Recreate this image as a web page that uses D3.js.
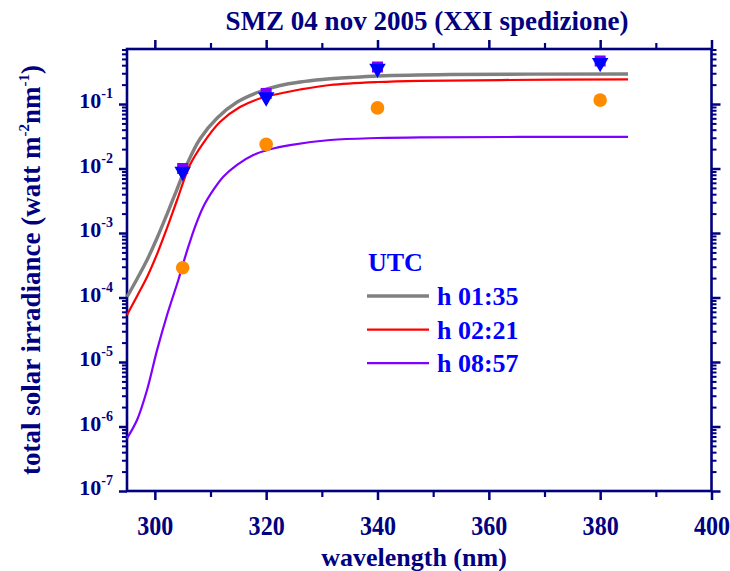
<!DOCTYPE html>
<html><head><meta charset="utf-8">
<script src="https://cdn.jsdelivr.net/npm/d3@7"></script>
<style>body{margin:0;background:#fff}svg{display:block}</style>
</head><body>
<svg id="c" width="730" height="571"></svg>
<script>
// ---------- data ----------
const titleText = "SMZ 04 nov 2005 (XXI spedizione)";
const xLabel = "wavelength (nm)";
const xTicksMajor = [300, 320, 340, 360, 380, 400];
const xTicksMinor = [310, 330, 350, 370, 390];
const yTickExponents = [-7, -6, -5, -4, -3, -2, -1];
const legendTitle = "UTC";
const seriesNames = ["h 01:35", "h 02:21", "h 08:57"];

// curve h 01:35 (grey)
const wl0135  = [295, 296.8, 298.6, 300.4, 302.2, 304.0, 305.8, 308.1, 311.2, 314.8, 318.9, 322.5, 326.1, 330.1, 335.1, 340.1, 353.1, 385];
const irr0135 = [1.02e-4, 1.94e-4, 3.81e-4, 8.36e-4, 1.97e-3, 4.81e-3, 0.01175, 0.0287, 0.0607, 0.1074, 0.1563, 0.1936, 0.2193, 0.2399, 0.2576, 0.2716, 0.2864, 0.2917];
// curve h 02:21 (red)
const wl0221  = [295, 296.8, 298.6, 300.4, 302.2, 304.0, 306.3, 308.7, 311.7, 315.3, 319.4, 322.5, 326.1, 331.5, 340.0, 347.7, 362.1, 385];
const irr0221 = [5.36e-5, 1.05e-4, 2.08e-4, 4.72e-4, 1.20e-3, 3.25e-3, 0.01132, 0.0248, 0.0526, 0.0898, 0.1262, 0.1455, 0.1679, 0.1972, 0.2193, 0.2291, 0.2355, 0.2415];
// curve h 08:57 (violet)
const wl0857  = [295, 296.8, 298.6, 300.4, 302.2, 304.22, 305.06, 306.02, 307.22, 308.71, 310.51, 312.30, 314.71, 317.70, 320.70, 324.29, 331.5, 340.0, 347.7, 385];
const irr0857 = [6.56e-7, 1.26e-6, 3.68e-6, 1.53e-5, 5.36e-5, 1.87e-4, 3.30e-4, 6.14e-4, 1.25e-3, 2.56e-3, 4.65e-3, 7.46e-3, 0.01133, 0.01618, 0.01987, 0.02312, 0.02767, 0.02972, 0.03049, 0.03098];

// measured points
const markerWl     = [305, 320, 340, 380];
const circleVals   = [2.9e-4, 0.0237, 0.087, 0.115];
const squareVals   = [0.0100, 0.146, 0.375, 0.465];
const triangleVals = [0.00895, 0.128, 0.355, 0.436];

// ---------- drawing ----------
const navy = "#000080", blue = "#0000ff";
const font = "'Liberation Serif','Times New Roman',serif";
const svg = d3.select("#c");
const L = 127, R = 711.5, T = 49, B = 491;

const x = d3.scaleLinear().domain([295, 400]).range([L, R]);
const y = d3.scaleLog().domain([1e-7, 0.713]).range([B, T]);

const yMajor = yTickExponents.map(e => Math.pow(10, e));
const yMinor = [];
for (let e = -7; e <= -1; e++) for (let k = 2; k <= 9; k++) {
  const v = k * Math.pow(10, e);
  if (v <= 0.713) yMinor.push(v);
}

function styleAxis(g, w) {
  g.select(".domain").remove();
  g.selectAll(".tick line").attr("stroke", navy).attr("stroke-width", w);
}

// bottom
svg.append("g").attr("transform", `translate(0,${B})`)
  .call(d3.axisBottom(x).tickValues(xTicksMinor).tickSize(6).tickFormat(""))
  .call(g => styleAxis(g, 2.2));
const gxb = svg.append("g").attr("transform", `translate(0,${B})`)
  .call(d3.axisBottom(x).tickValues(xTicksMajor).tickSize(9).tickFormat(d3.format("d")))
  .call(g => styleAxis(g, 2.5));
gxb.selectAll(".tick text")
  .attr("fill", navy).attr("font-family", font).attr("font-weight", "bold").attr("font-size", 28)
  .attr("dy", null).attr("y", 0)
  .attr("transform", "translate(0,44) scale(0.86,1)");
// top
svg.append("g").attr("transform", `translate(0,${T})`)
  .call(d3.axisTop(x).tickValues(xTicksMinor).tickSize(6).tickFormat(""))
  .call(g => styleAxis(g, 2.2));
svg.append("g").attr("transform", `translate(0,${T})`)
  .call(d3.axisTop(x).tickValues(xTicksMajor).tickSize(9).tickFormat(""))
  .call(g => styleAxis(g, 2.5));

// left
svg.append("g").attr("transform", `translate(${L},0)`)
  .call(d3.axisLeft(y).tickValues(yMinor).tickSize(5).tickFormat(""))
  .call(g => styleAxis(g, 2));
const gyl = svg.append("g").attr("transform", `translate(${L},0)`)
  .call(d3.axisLeft(y).tickValues(yMajor).tickSize(8).tickFormat(""))
  .call(g => styleAxis(g, 2.5));
gyl.selectAll(".tick text").each(function(d) {
  const t = d3.select(this).attr("x", -14).attr("dy", "0.38em")
    .attr("fill", navy).attr("font-family", font).attr("font-weight", "bold").attr("text-anchor", "end");
  t.append("tspan").attr("font-size", 22).text("10");
  t.append("tspan").attr("font-size", 14).attr("dy", -10).text(Math.round(Math.log10(d)));
});
// right
svg.append("g").attr("transform", `translate(${R},0)`)
  .call(d3.axisRight(y).tickValues(yMinor).tickSize(5).tickFormat(""))
  .call(g => styleAxis(g, 2));
svg.append("g").attr("transform", `translate(${R},0)`)
  .call(d3.axisRight(y).tickValues(yMajor).tickSize(9).tickFormat(""))
  .call(g => styleAxis(g, 2.5));

// frame
svg.append("rect").attr("x", L).attr("y", T).attr("width", R - L).attr("height", B - T)
  .attr("fill", "none").attr("stroke", navy).attr("stroke-width", 2.6);

// curves
const line = d3.line().x(d => x(d[0])).y(d => y(d[1])).curve(d3.curveCatmullRom.alpha(0.5));
const curves = [
  {wl: wl0135, v: irr0135, color: "#808080", w: 3.4},
  {wl: wl0221, v: irr0221, color: "#ff0000", w: 2.2},
  {wl: wl0857, v: irr0857, color: "#8000ff", w: 2.2}
];
curves.forEach(c => {
  svg.append("path").datum(c.wl.map((w, i) => [w, c.v[i]]))
    .attr("d", line).attr("fill", "none").attr("stroke", c.color).attr("stroke-width", c.w)
    .attr("stroke-linejoin", "round");
});

// markers
svg.append("g").selectAll("circle").data(markerWl.map((w, i) => [w, circleVals[i]])).join("circle")
  .attr("cx", d => x(d[0])).attr("cy", d => y(d[1])).attr("r", 6.8).attr("fill", "#ff8c00");
svg.append("g").selectAll("path").data(markerWl.map((w, i) => [w, squareVals[i]])).join("path")
  .attr("d", d3.symbol(d3.symbolSquare, 121)())
  .attr("transform", d => `translate(${x(d[0])},${y(d[1])})`).attr("fill", "#8000ff");
svg.append("g").selectAll("path").data(markerWl.map((w, i) => [w, triangleVals[i]])).join("path")
  .attr("d", d3.symbol(d3.symbolTriangle, 118)())
  .attr("transform", d => `translate(${x(d[0])},${y(d[1])}) rotate(180)`).attr("fill", blue);

// title
svg.append("text").attr("x", 427).attr("y", 30).attr("text-anchor", "middle")
  .attr("fill", navy).attr("font-family", font).attr("font-weight", "bold").attr("font-size", 27)
  .text(titleText);
// x label
svg.append("text").attr("x", 414).attr("y", 566).attr("text-anchor", "middle")
  .attr("fill", navy).attr("font-family", font).attr("font-weight", "bold").attr("font-size", 26)
  .text(xLabel);
// y label
const yl = svg.append("text").attr("transform", "translate(40,270) rotate(-90)").attr("text-anchor", "middle")
  .attr("fill", navy).attr("font-family", font).attr("font-weight", "bold").attr("font-size", 27);
yl.append("tspan").text("total solar irradiance (watt m");
yl.append("tspan").attr("font-size", 15).attr("dy", -11).text("-2");
yl.append("tspan").attr("dy", 11).text("nm");
yl.append("tspan").attr("font-size", 15).attr("dy", -11).text("-1");
yl.append("tspan").attr("dy", 11).text(")");

// legend
const lg = svg.append("g").attr("font-family", font).attr("font-weight", "bold").attr("fill", blue);
lg.append("text").attr("x", 368).attr("y", 271).attr("font-size", 26).text(legendTitle);
seriesNames.forEach((n, i) => {
  const yy = 296 + i * 33.6;
  lg.append("line").attr("x1", 367).attr("x2", 429).attr("y1", yy).attr("y2", yy)
    .attr("stroke", curves[i].color).attr("stroke-width", i === 0 ? 3.4 : 2.2);
  lg.append("text").attr("x", 437).attr("y", yy + 9).attr("font-size", 26).text(n);
});
</script>
</body></html>
